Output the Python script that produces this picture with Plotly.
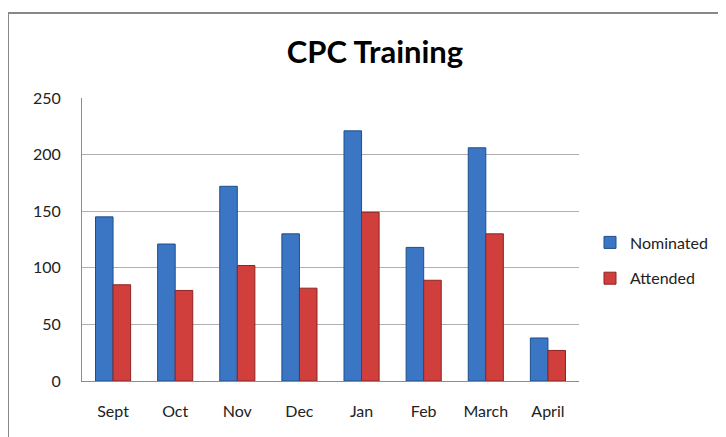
import plotly.graph_objects as go

months = ["Sept", "Oct", "Nov", "Dec", "Jan", "Feb", "March", "April"]
nominated = [145, 121, 172, 130, 221, 118, 206, 38]
attended = [85, 80, 102, 82, 149, 89, 130, 27]
y_ticks = [0, 50, 100, 150, 200, 250]

FONT = "Lato"
# the page body adds an 8px offset; layout numbers below compensate for it
L, T, PW, PH = 74, 90, 497, 283

fig = go.Figure()
fig.add_trace(go.Bar(
    x=months, y=nominated, name="Nominated", legendgroup="a",
    marker=dict(color="#3A76C4", line=dict(color="#1F4E8C", width=1)),
))
fig.add_trace(go.Bar(
    x=months, y=attended, name="Attended", legendgroup="b",
    marker=dict(color="#D03F3C", line=dict(color="#8E2422", width=1)),
))

fig.update_layout(
    width=726, height=437,
    margin=dict(l=L, r=726 - L - PW, t=T, b=437 - T - PH),
    paper_bgcolor="white", plot_bgcolor="white",
    barmode="group", bargap=0.435, bargroupgap=0.0,
    title=dict(text="<b>CPC Training</b>", x=367 / 726, xanchor="center",
               y=1 - 44 / 437, yanchor="middle",
               font=dict(family=FONT, size=31, color="#000000")),
    font=dict(family=FONT, size=16, color="#222222"),
    legend=dict(x=(582 - L) / PW, xanchor="left",
                y=(T + PH - 252.5) / PH, yanchor="middle",
                font=dict(family=FONT, size=16, color="#222222"),
                tracegroupgap=12, bgcolor="rgba(0,0,0,0)",
                itemwidth=30),
    showlegend=True,
    xaxis=dict(showline=True, linecolor="#8C8C8C", linewidth=1,
               ticks="", ticklabelstandoff=16,
               tickfont=dict(size=16, color="#222222"),
               showgrid=False),
    yaxis=dict(range=[0, 250], tickvals=y_ticks, showline=True,
               linecolor="#8C8C8C", linewidth=1, ticks="",
               ticklabelstandoff=17,
               gridcolor="#B0B0B0", gridwidth=1,
               tickfont=dict(size=16, color="#222222"), zeroline=False),
    shapes=[dict(type="rect", xref="paper", yref="paper",
                 x0=(0 - L) / PW, x1=1.5, y0=-0.5, y1=(T + PH - 5) / PH,
                 line=dict(color="#888888", width=2), fillcolor="rgba(0,0,0,0)",
                 layer="below")],
)

fig.write_html("out.html")
